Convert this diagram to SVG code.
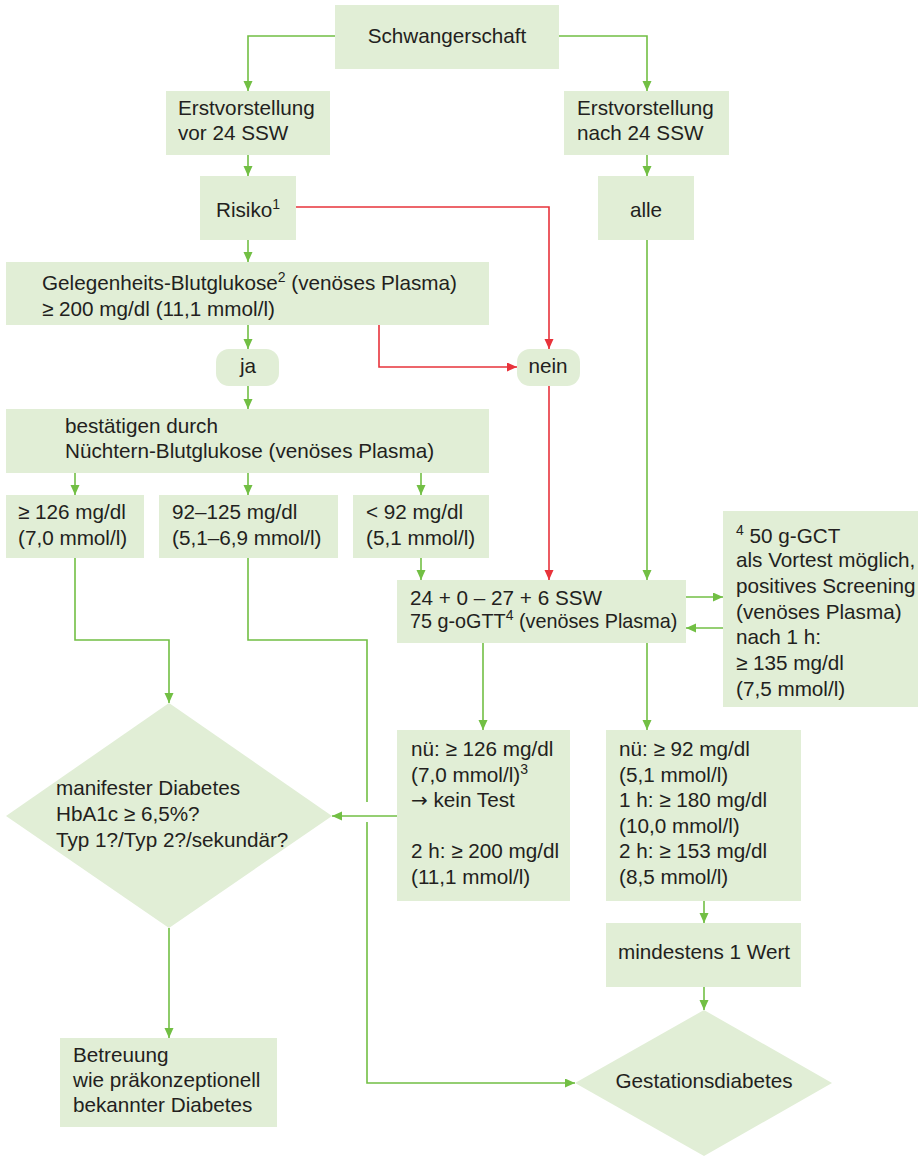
<svg xmlns="http://www.w3.org/2000/svg" width="918" height="1156" viewBox="0 0 918 1156">
<style>
.box{fill:#e1eed6;stroke:none}
text{font-family:"Liberation Sans",Arial,sans-serif;font-size:20.7px;fill:#231f20}
.c{text-anchor:middle}
.sup{font-size:14px}
.sm{font-size:19.8px}
.arr{font-family:"DejaVu Sans",sans-serif;font-size:20px}
.g{fill:none;stroke:#72bf44;stroke-width:1.6}
.r{fill:none;stroke:#e8333b;stroke-width:1.6}
</style>
<defs>
<marker id="ag" markerUnits="userSpaceOnUse" markerWidth="10" markerHeight="10" refX="10" refY="4.5" orient="auto"><path d="M0,0 L10,4.5 L0,9 z" fill="#72bf44"/></marker>
<marker id="ar" markerUnits="userSpaceOnUse" markerWidth="10" markerHeight="10" refX="10" refY="4.5" orient="auto"><path d="M0,0 L10,4.5 L0,9 z" fill="#e8333b"/></marker>
</defs>
<rect width="918" height="1156" fill="#ffffff"/>

<g id="connectors">
<path class="g" marker-end="url(#ag)" d="M335,36 H248 V91"/>
<path class="g" marker-end="url(#ag)" d="M559,36 H647 V91"/>
<path class="g" marker-end="url(#ag)" d="M248,155 V176"/>
<path class="g" marker-end="url(#ag)" d="M647,155 V176"/>
<path class="g" marker-end="url(#ag)" d="M248,240 V262"/>
<path class="g" marker-end="url(#ag)" d="M647,240 V580"/>
<path class="r" marker-end="url(#ar)" d="M296,207 H549 V349"/>
<path class="r" marker-end="url(#ar)" d="M379,325 V367 H517"/>
<path class="r" marker-end="url(#ar)" d="M549,386 V580"/>
<path class="g" marker-end="url(#ag)" d="M248,325 V349"/>
<path class="g" marker-end="url(#ag)" d="M248,386 V409"/>
<path class="g" marker-end="url(#ag)" d="M75,473 V495"/>
<path class="g" marker-end="url(#ag)" d="M248,473 V495"/>
<path class="g" marker-end="url(#ag)" d="M421,473 V495"/>
<path class="g" marker-end="url(#ag)" d="M75,558 V640 H169 V703"/>
<path class="g" d="M248,558 V640 H367 V802"/>
<path class="g" marker-end="url(#ag)" d="M367,822 V1083 H575"/>
<path class="g" marker-end="url(#ag)" d="M421,558 V580"/>
<path class="g" marker-end="url(#ag)" d="M686,597 H723"/>
<path class="g" marker-end="url(#ag)" d="M723,628 H686"/>
<path class="g" marker-end="url(#ag)" d="M483,643 V730"/>
<path class="g" marker-end="url(#ag)" d="M647,643 V730"/>
<path class="g" marker-end="url(#ag)" d="M397,816 H332"/>
<path class="g" marker-end="url(#ag)" d="M169,928 V1038"/>
<path class="g" marker-end="url(#ag)" d="M704,901 V923"/>
<path class="g" marker-end="url(#ag)" d="M704,987 V1010"/>
</g>

<g id="schwangerschaft"><rect class="box" x="335" y="5" width="224" height="64"/><text class="c" x="447" y="43">Schwangerschaft</text></g>
<g id="vor24"><rect class="box" x="166" y="91" width="164" height="64"/><text x="178" y="115">Erstvorstellung</text><text x="178" y="140">vor 24 SSW</text></g>
<g id="nach24"><rect class="box" x="564" y="91" width="165" height="64"/><text x="577" y="115">Erstvorstellung</text><text x="577" y="140">nach 24 SSW</text></g>
<g id="risiko"><rect class="box" x="200" y="176" width="96" height="64"/><text class="c" x="248" y="217">Risiko<tspan class="sup" dy="-8">1</tspan></text></g>
<g id="alle"><rect class="box" x="598" y="176" width="96" height="64"/><text class="c" x="646" y="217">alle</text></g>
<g id="gelegenheit"><rect class="box" x="6" y="262" width="483" height="63"/><text x="42" y="290">Gelegenheits-Blutglukose<tspan class="sup" dy="-8">2</tspan><tspan dy="8"> (venöses Plasma)</tspan></text><text x="42" y="316">≥ 200 mg/dl (11,1 mmol/l)</text></g>
<g id="ja"><rect class="box" x="216" y="349" width="63" height="37" rx="13"/><text class="c" x="248" y="373">ja</text></g>
<g id="nein"><rect class="box" x="517" y="349" width="63" height="37" rx="13"/><text class="c" x="548" y="373">nein</text></g>
<g id="bestaetigen"><rect class="box" x="6" y="409" width="483" height="64"/><text x="65" y="433">bestätigen durch</text><text x="65" y="458">Nüchtern-Blutglukose (venöses Plasma)</text></g>
<g id="ge126"><rect class="box" x="6" y="495" width="138" height="63"/><text x="18" y="519">≥ 126 mg/dl</text><text x="18" y="545">(7,0 mmol/l)</text></g>
<g id="r92125"><rect class="box" x="159" y="495" width="179" height="63"/><text x="172" y="519">92–125 mg/dl</text><text x="172" y="545">(5,1–6,9 mmol/l)</text></g>
<g id="lt92"><rect class="box" x="353" y="495" width="136" height="63"/><text x="366" y="519">&lt; 92 mg/dl</text><text x="366" y="545">(5,1 mmol/l)</text></g>
<g id="ogtt"><rect class="box" x="397" y="580" width="289" height="63"/><text x="410" y="605">24 + 0 – 27 + 6 SSW</text><text class="sm" x="410" y="628">75 g-oGTT<tspan class="sup" dy="-8">4</tspan><tspan dy="8"> (venöses Plasma)</tspan></text></g>
<g id="footnote"><rect class="box" x="723" y="511" width="195" height="196"/>
<text x="736" y="543"><tspan class="sup" dy="-8">4</tspan><tspan dy="8"> 50 g-GCT</tspan></text>
<text x="736" y="567">als Vortest möglich,</text>
<text x="736" y="593">positives Screening</text>
<text x="736" y="619">(venöses Plasma)</text>
<text x="736" y="644">nach 1 h:</text>
<text x="736" y="670">≥ 135 mg/dl</text>
<text x="736" y="696">(7,5 mmol/l)</text></g>
<g id="manifest"><polygon class="box" points="6,816 169,703 332,816 169,928"/><text x="56" y="795">manifester Diabetes</text><text x="56" y="821">HbA1c ≥ 6,5%?</text><text x="56" y="847">Typ 1?/Typ 2?/sekundär?</text></g>
<g id="nue126"><rect class="box" x="397" y="730" width="173" height="171"/>
<text x="411" y="756">nü: ≥ 126 mg/dl</text>
<text x="411" y="782">(7,0 mmol/l)<tspan class="sup" dy="-8">3</tspan></text>
<text x="411" y="807"><tspan class="arr">→</tspan> kein Test</text>
<text x="411" y="858">2 h: ≥ 200 mg/dl</text>
<text x="411" y="884">(11,1 mmol/l)</text></g>
<g id="nue92"><rect class="box" x="606" y="730" width="195" height="171"/>
<text x="619" y="756">nü: ≥ 92 mg/dl</text>
<text x="619" y="782">(5,1 mmol/l)</text>
<text x="619" y="807">1 h: ≥ 180 mg/dl</text>
<text x="619" y="833">(10,0 mmol/l)</text>
<text x="619" y="858">2 h: ≥ 153 mg/dl</text>
<text x="619" y="884">(8,5 mmol/l)</text></g>
<g id="mindestens"><rect class="box" x="606" y="923" width="195" height="64"/><text class="c" x="704" y="959">mindestens 1 Wert</text></g>
<g id="betreuung"><rect class="box" x="60" y="1038" width="217" height="89"/><text x="73" y="1062">Betreuung</text><text x="73" y="1087">wie präkonzeptionell</text><text x="73" y="1112">bekannter Diabetes</text></g>
<g id="gestation"><polygon class="box" points="575,1083 704,1010 832,1083 704,1156"/><text class="c" x="704" y="1088">Gestationsdiabetes</text></g>
</svg>
